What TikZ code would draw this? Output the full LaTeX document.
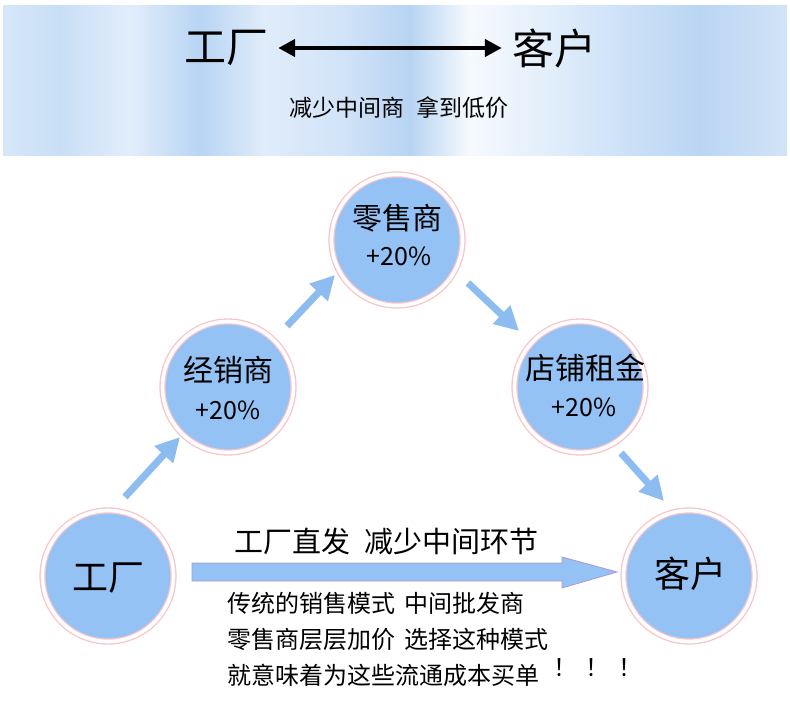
\documentclass[tikz,border=0pt]{standalone}
\usepackage{fontspec}
\setmainfont{Noto Sans CJK SC}
\usetikzlibrary{arrows.meta}
\definecolor{bblue}{RGB}{148,194,244}
\definecolor{ablue}{RGB}{140,188,240}
\definecolor{rpink}{RGB}{248,196,202}
\definecolor{edgep}{RGB}{172,152,210}
\newcommand{\fs}[1]{\fontsize{#1}{#1}\selectfont}
\tikzset{
  bub/.style={circle, fill=bblue, draw=rpink, double=white, double distance=3.6pt, line width=1.3pt, minimum size=131pt, inner sep=0pt},
  lbl/.style={inner sep=0pt, text=black, font=\fs{30}},
  pct/.style={inner sep=0pt, text=black, font=\fs{25}},
  darrow/.style={ablue, line width=7pt, -{Triangle[width=24pt,length=24pt]}},
  txt/.style={inner sep=0pt, text=black, anchor=west, font=\fs{24}},
}
\begin{document}
\begin{tikzpicture}[x=1pt,y=-1pt]
\useasboundingbox (0,0) rectangle (790,707);
\fill[white] (0,0) rectangle (790,707);
% banner gradient bands
\def\bandy{5}\def\bandb{155}
\shade[left color={rgb,255:red,214;green,231;blue,248}, right color={rgb,255:red,201;green,223;blue,246}] (3,\bandy) rectangle (60,\bandb);
\shade[left color={rgb,255:red,201;green,223;blue,246}, right color={rgb,255:red,226;green,237;blue,250}] (60,\bandy) rectangle (130,\bandb);
\shade[left color={rgb,255:red,226;green,237;blue,250}, right color={rgb,255:red,184;green,213;blue,244}] (130,\bandy) rectangle (200,\bandb);
\shade[left color={rgb,255:red,184;green,213;blue,244}, right color={rgb,255:red,224;green,236;blue,250}] (200,\bandy) rectangle (265,\bandb);
\shade[left color={rgb,255:red,224;green,236;blue,250}, right color={rgb,255:red,210;green,228;blue,248}] (265,\bandy) rectangle (340,\bandb);
\shade[left color={rgb,255:red,210;green,228;blue,248}, right color={rgb,255:red,184;green,212;blue,243}] (340,\bandy) rectangle (410,\bandb);
\shade[left color={rgb,255:red,184;green,212;blue,243}, right color={rgb,255:red,246;green,250;blue,254}] (410,\bandy) rectangle (470,\bandb);
\shade[left color={rgb,255:red,246;green,250;blue,254}, right color={rgb,255:red,228;green,239;blue,251}] (470,\bandy) rectangle (540,\bandb);
\shade[left color={rgb,255:red,228;green,239;blue,251}, right color={rgb,255:red,206;green,226;blue,248}] (540,\bandy) rectangle (620,\bandb);
\shade[left color={rgb,255:red,206;green,226;blue,248}, right color={rgb,255:red,186;green,213;blue,243}] (620,\bandy) rectangle (700,\bandb);
\shade[left color={rgb,255:red,186;green,213;blue,243}, right color={rgb,255:red,210;green,228;blue,247}] (700,\bandy) rectangle (787,\bandb);
% banner text
\node[inner sep=0pt, font=\fs{42}] (tf) at (226,48) {工厂};
\node[inner sep=0pt, font=\fs{42}] (tc) at (554,48) {客户};
\draw[black, line width=4.5pt, {Triangle[width=17pt,length=17pt]}-{Triangle[width=17pt,length=17pt]}] (tf.east) ++(10,0) coordinate (ta) -- ([xshift=-10pt]tc.west) coordinate (tb);
\node[inner sep=0pt, font=\fs{23}] (sub) at (399,108) {减少中间商\hspace{0.5em}拿到低价};
% circles
\node[bub] (gc) at (108,576) {};
\node[bub] (jx) at (228,387) {};
\node[bub] (ls) at (397,240) {};
\node[bub] (dp) at (580,387) {};
\node[bub] (kh) at (689,576) {};
\node[lbl, font=\fs{36}] (gct) at (108,578) {工厂};
\node[lbl, font=\fs{36}] (kht) at (690,574) {客户};
\node[lbl] (jxt) at (228,370) {经销商};
\node[pct] (jxp) at (228,410) {+20\%};
\node[lbl] (lst) at (397,218) {零售商};
\node[pct] (lsp) at (399,256) {+20\%};
\node[lbl] (dpt) at (585,368) {店铺租金};
\node[pct] (dpp) at (584,407) {+20\%};
% diagonal arrows
\coordinate (a1s) at (125,497); \coordinate (a1e) at (180,437);
\coordinate (a2s) at (287,326); \coordinate (a2e) at (335,275);
\coordinate (a3s) at (468,283); \coordinate (a3e) at (519,331);
\coordinate (a4s) at (621,453); \coordinate (a4e) at (664,501);
\draw[darrow] (a1s) -- (a1e);
\draw[darrow] (a2s) -- (a2e);
\draw[darrow] (a3s) -- (a3e);
\draw[darrow] (a4s) -- (a4e);
% big horizontal arrow
\draw[fill=bblue, draw=edgep, line width=0.8pt] (192,563) -- (562,563) -- (562,557) -- (617,572) -- (562,588) -- (562,581) -- (192,581) -- cycle;
% texts
\node[txt, font=\fs{29}] (h1) at (234,541) {工厂直发\hspace{0.5em}减少中间环节};
\node[txt] (l1) at (227,603) {传统的销售模式\hspace{0.4em}中间批发商};
\node[txt] (l2) at (227,639) {零售商层层加价\hspace{0.4em}选择这种模式};
\node[txt] (l3) at (227,675) {就意味着为这些流通成本买单};
\node[txt] (ex) at (553,668) {！\hspace{0.35em}！\hspace{0.35em}！};
\end{tikzpicture}
\end{document}
